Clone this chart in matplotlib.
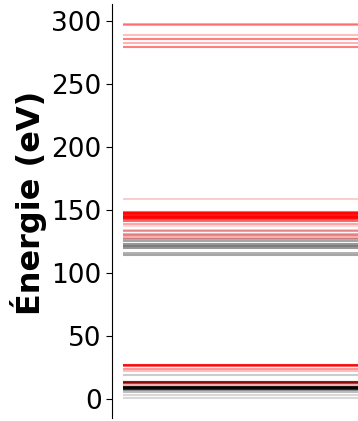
import matplotlib
matplotlib.use('Agg')
import matplotlib.pyplot as plt

# niveaux d'energie (eV), avec leur opacite
red_E = [297.0, 296.2, 288.8, 285.6, 282.5, 279.0,
         158.8, 148.5, 147.5, 146.5, 145.5, 144.5, 143.5, 142.5, 141.5,
         139.0, 137.0, 133.5, 131.0, 129.5, 128.0,
         27.2, 26.2, 24.0, 22.0, 13.5, 11.0]
red_alpha = [0.35, 0.35, 0.25, 0.5, 0.3, 0.5,
             0.2, 0.6, 0.9, 0.9, 0.9, 0.9, 0.8, 0.7, 0.6,
             0.35, 0.15, 0.4, 0.35, 0.3, 0.3,
             0.9, 0.6, 0.4, 0.25, 0.5, 0.3]

black_E = [134.0, 130.0, 127.0, 125.0, 123.0, 121.0, 119.5, 116.0, 114.5,
           19.5, 13.3, 12.7, 10.0, 9.0, 8.0, 7.4, 6.0, 3.0, 0.8]
black_alpha = [0.15, 0.2, 0.3, 0.35, 0.4, 0.5, 0.4, 0.3, 0.35,
               0.2, 0.8, 0.6, 0.9, 0.9, 0.7, 0.4, 0.25, 0.15, 0.15]

yticks = [0, 50, 100, 150, 200, 250, 300]

fig = plt.figure(figsize=(3.58, 4.21), dpi=100)
ax = fig.add_axes([0.313, 0.007, 0.687, 0.983])

for e, a in zip(black_E, black_alpha):
    ax.hlines(e, 0.045, 1.0, colors='black', alpha=a, linewidth=1.5)
for e, a in zip(red_E, red_alpha):
    ax.hlines(e, 0.045, 1.0, colors='red', alpha=a, linewidth=1.5)

ax.set_xlim(0, 1)
ax.set_ylim(-15, 313)
ax.set_yticks(yticks)
ax.tick_params(axis='y', labelsize=19, length=4)
ax.set_ylabel('Énergie (eV)', fontsize=23, fontweight='bold')
ax.yaxis.set_label_coords(-0.265, 0.52)
ax.get_xaxis().set_visible(False)
for s in ['top', 'right', 'bottom']:
    ax.spines[s].set_visible(False)

fig.savefig('out.png', dpi=100)
